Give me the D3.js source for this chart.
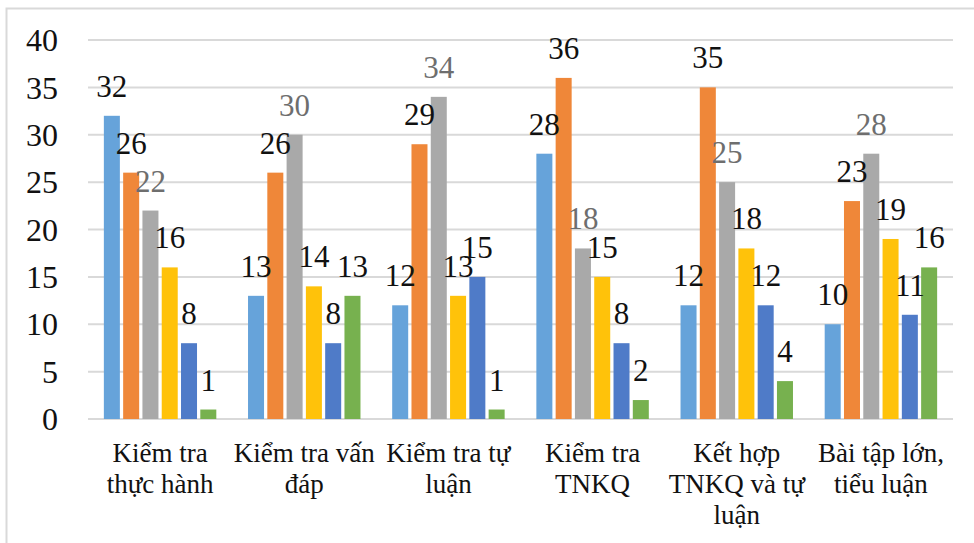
<!DOCTYPE html>
<html>
<head>
<meta charset="utf-8">
<script src="https://cdnjs.cloudflare.com/ajax/libs/d3/7.8.5/d3.min.js"></script>
<style>
    body { margin: 0; background: #fff; }
</style>
</head>
<body>
<div id="chart"></div>
<script>
// categories, each already split into the lines shown under the axis
var categories = [
    ["Kiểm tra", "thực hành"],
    ["Kiểm tra vấn", "đáp"],
    ["Kiểm tra tự", "luận"],
    ["Kiểm tra", "TNKQ"],
    ["Kết hợp", "TNKQ và tự", "luận"],
    ["Bài tập lớn,", "tiểu luận"]
];

// one array per series, one value per category
var series1 = [32, 13, 12, 28, 12, 10];
var series2 = [26, 26, 29, 36, 35, 23];
var series3 = [22, 30, 34, 18, 25, 28];
var series4 = [16, 14, 13, 15, 18, 19];
var series5 = [8, 8, 15, 8, 12, 11];
var series6 = [1, 13, 1, 2, 4, 16];

var yTicks = [0, 5, 10, 15, 20, 25, 30, 35, 40];

var allSeries = [series1, series2, series3, series4, series5, series6];
var colors = ["#66a3da", "#ef8739", "#a9a9a9", "#ffc20a", "#4f7bc8", "#77b14f"];
var labelColors = ["#111", "#111", "#6e6e6e", "#111", "#111", "#111"];

var FONT = "'Liberation Serif', 'DejaVu Serif', 'Noto Serif', Tinos, FreeSerif, Times, serif";

var width = 974,
    height = 543,
    plotLeft = 88,
    plotRight = 953,
    plotTop = 40,
    plotBottom = 419;

var svg = d3.select("#chart").append("svg")
    .attr("width", width)
    .attr("height", height)
    .style("font-family", FONT);

// chart frame (only left and top edges show in the picture)
svg.append("rect")
    .attr("x", 6.5)
    .attr("y", 8.5)
    .attr("width", 990)
    .attr("height", 560)
    .attr("fill", "none")
    .attr("stroke", "#d9d9d9")
    .attr("stroke-width", 2);

var x0 = d3.scaleBand()
    .domain(d3.range(categories.length))
    .range([plotLeft, plotRight])
    .paddingInner(0.22)
    .paddingOuter(0.11);

var x1 = d3.scaleBand()
    .domain(d3.range(allSeries.length))
    .range([0, x0.bandwidth()])
    .paddingInner(0.17);

var y = d3.scaleLinear()
    .domain([0, 40])
    .range([plotBottom, plotTop]);

// gridlines
svg.append("g")
    .selectAll("line")
    .data(yTicks)
    .enter()
    .append("line")
    .attr("x1", plotLeft)
    .attr("x2", plotRight)
    .attr("y1", function (d) { return y(d); })
    .attr("y2", function (d) { return y(d); })
    .attr("stroke", "#d9d9d9")
    .attr("stroke-width", 2);

// y tick labels
svg.append("g")
    .selectAll("text")
    .data(yTicks)
    .enter()
    .append("text")
    .attr("x", 58)
    .attr("y", function (d) { return y(d); })
    .attr("dy", "0.35em")
    .attr("text-anchor", "end")
    .style("font-family", FONT)
    .attr("font-size", 32)
    .attr("fill", "#111")
    .text(function (d) { return d; });

// bars, grouped by category
var groups = svg.append("g")
    .selectAll("g")
    .data(categories)
    .enter()
    .append("g")
    .attr("transform", function (d, i) {
        return "translate(" + x0(i) + ",0)";
    });

groups.selectAll("rect")
    .data(function (d, i) {
        return allSeries.map(function (s, k) { return {k: k, v: s[i]}; });
    })
    .enter()
    .append("rect")
    .attr("x", function (d) { return x1(d.k); })
    .attr("y", function (d) { return y(d.v); })
    .attr("width", x1.bandwidth())
    .attr("height", function (d) { return y(0) - y(d.v); })
    .attr("fill", function (d) { return colors[d.k]; });

// data labels
groups.selectAll("text")
    .data(function (d, i) {
        return allSeries.map(function (s, k) { return {k: k, v: s[i]}; });
    })
    .enter()
    .append("text")
    .attr("x", function (d) { return x1(d.k) + x1.bandwidth() / 2; })
    .attr("y", function (d) { return y(d.v) - 19; })
    .attr("text-anchor", "middle")
    .style("font-family", FONT)
    .attr("font-size", 31)
    .attr("fill", function (d) { return labelColors[d.k]; })
    .text(function (d) { return d.v; });

// category labels
var catLabels = svg.append("g")
    .selectAll("text")
    .data(categories)
    .enter()
    .append("text")
    .attr("text-anchor", "middle")
    .style("font-family", FONT)
    .attr("font-size", 27)
    .attr("fill", "#111")
    .attr("transform", function (d, i) {
        return "translate(" + (x0(i) + x0.bandwidth() / 2) + ",462)";
    });

catLabels.selectAll("tspan")
    .data(function (d) { return d; })
    .enter()
    .append("tspan")
    .attr("x", 0)
    .attr("y", function (d, i) { return i * 31; })
    .text(function (d) { return d; });
</script>
</body>
</html>
